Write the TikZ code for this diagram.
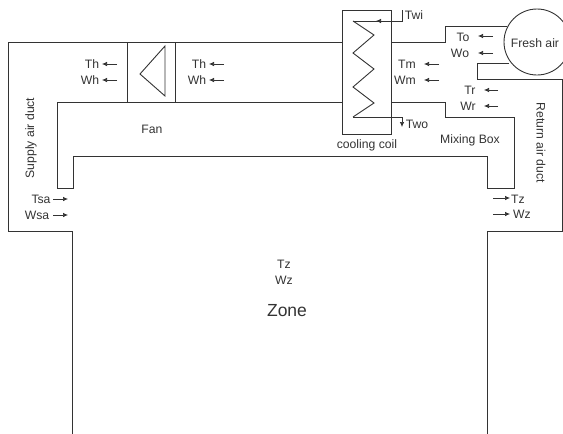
\documentclass[tikz,border=0pt]{standalone}
\usepackage{fontspec}
\setmainfont{Liberation Sans}
\usetikzlibrary{arrows.meta}
\tikzset{
  duct/.style={draw=black!80,line width=0.9pt},
  flow/.style={draw=black!80,line width=0.7pt,-{Latex[length=5pt,width=4.5pt]}},
  lab/.style={inner sep=0pt,text=black!80,font=\fontsize{12.2}{14}\selectfont},
}
\begin{document}
\begin{tikzpicture}[x=1pt,y=-1pt]
\useasboundingbox (0,0) rectangle (563,434);
\begin{scope}
\clip (0,0) rectangle (563,434);
% ducts
\draw[duct] (342,42) -- (8,42) -- (8,231) -- (72,231) -- (72,434);
\draw[duct] (342,102) -- (57,102) -- (57,188) -- (73,188) -- (73,156) -- (487,156) -- (487,188) -- (514,188) -- (514,117) -- (445,117) -- (445,102) -- (391,102);
\draw[duct] (391,42) -- (445,42) -- (445,26) -- (507,26);
\draw[duct] (509,63) -- (477,63) -- (477,79) -- (562,79) -- (562,231) -- (487,231) -- (487,434);
\draw[duct] (537,42) circle (33);
% fan
\draw[duct] (127,42) -- (127,102) (175,42) -- (175,102);
\draw[duct] (165,46) -- (165,96) -- (140,74) -- cycle;
% coil
\draw[duct] (342,10) rectangle (391,134);
\draw[duct] (353,21) -- (374,35) -- (353,53) -- (374,69) -- (353,87) -- (374,103) -- (353,117);
\draw[duct] (402,10) -- (402,21) -- (353,21);
\draw[flow] (384,21) -- (376,21);
\draw[duct] (353,117) -- (402,117);
\draw[flow] (402,117) -- (402,127);
\end{scope}
% arrows
\draw[flow] (493,36) -- (478,36);
\draw[flow] (493,53) -- (478,53);
\draw[flow] (439,64) -- (424,64);
\draw[flow] (439,80) -- (424,80);
\draw[flow] (498,90) -- (484,90);
\draw[flow] (498,106) -- (484,106);
\draw[flow] (117,64) -- (102,64);
\draw[flow] (117,80) -- (102,80);
\draw[flow] (224,64) -- (209,64);
\draw[flow] (224,80) -- (209,80);
\draw[flow] (53,199) -- (68,199);
\draw[flow] (53,215) -- (68,215);
\draw[flow] (493,198) -- (510,198);
\draw[flow] (493,214) -- (510,214);
% labels
\node[lab] (twi) at (414,15) {Twi};
\node[lab] (two) at (417,124) {Two};
\node[lab] (to) at (463,37) {To};
\node[lab] (wo) at (460,53) {Wo};
\node[lab] (tm) at (407,64) {Tm};
\node[lab] (wm) at (405,80) {Wm};
\node[lab] (tr) at (470,90) {Tr};
\node[lab] (wr) at (468,106) {Wr};
\node[lab] (th1) at (92,64) {Th};
\node[lab] (wh1) at (90,80) {Wh};
\node[lab] (th2) at (199,64) {Th};
\node[lab] (wh2) at (197,80) {Wh};
\node[lab] (tsa) at (41,199) {Tsa};
\node[lab] (wsa) at (37,215) {Wsa};
\node[lab] (tzr) at (518,199) {Tz};
\node[lab] (wzr) at (522,214) {Wz};
\node[lab] (fan) at (152,129) {Fan};
\node[lab] (coil) at (367,145) {cooling coil};
\node[lab] (mix) at (470,140) {Mixing Box};
\node[lab] (fresh) at (535,43) {Fresh air};
\node[lab,rotate=90] (sup) at (31,138) {Supply air duct};
\node[lab,rotate=-90] (ret) at (541,143) {Return air duct};
\node[lab] (tz) at (284,264) {Tz};
\node[lab] (wz) at (284,280) {Wz};
\node[lab,font=\fontsize{17.5}{20}\selectfont] (zone) at (287,311) {Zone};
\end{tikzpicture}
\end{document}
